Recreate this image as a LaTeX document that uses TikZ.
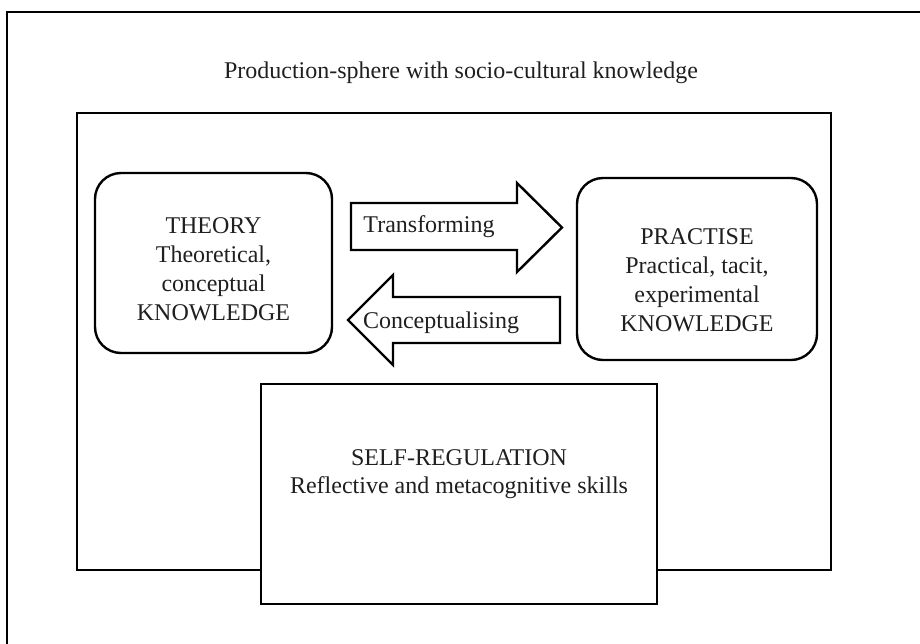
\documentclass[tikz,border=0pt]{standalone}
\usepackage{fontspec}
\setmainfont{Liberation Serif}
\begin{document}
\begin{tikzpicture}[x=1pt,y=-1pt,
  frame/.style={draw=black,line width=2pt},
  box/.style={draw=black,line width=2.4pt,fill=white},
  rbox/.style={draw=black,line width=2.4pt,fill=white,rounded corners=26pt},
  blockarrow/.style={draw=black,line width=2.4pt,fill=white,line join=miter},
  txt/.style={inner sep=0pt,align=center,text=black!88,font=\fontsize{24}{29}\selectfont}
]
\useasboundingbox (0,0) rectangle (920,643);
% outer frame (open on right and bottom)
\draw[frame] (7,650) -- (7,12) -- (930,12);
% title
\node[txt,anchor=base] (title) at (461,78) {Production-sphere with socio-cultural knowledge};
% inner sphere rectangle
\draw[box] (77,113) rectangle (831,570);
% theory box
\draw[rbox] (95,173) rectangle (332,353);
\node[txt] (theory) at (213.5,269) {THEORY\\Theoretical,\\conceptual\\KNOWLEDGE};
% practise box
\draw[rbox] (577,178) rectangle (817,360);
\node[txt] (practise) at (697,280) {PRACTISE\\Practical, tacit,\\experimental\\KNOWLEDGE};
% transforming arrow
\draw[blockarrow] (351,203) -- (517,203) -- (517,183) -- (562,227.5) -- (517,272) -- (517,250) -- (351,250) -- cycle;
\node[txt,anchor=base] (transf) at (429,232) {Transforming};
% conceptualising arrow
\draw[blockarrow] (560,297) -- (393,297) -- (393,275) -- (348,320) -- (393,365) -- (393,343) -- (560,343) -- cycle;
\node[txt,anchor=base] (concept) at (441,328) {Conceptualising};
% self-regulation box
\draw[box] (261,384) rectangle (657,604);
\node[txt,anchor=base] (selfreg) at (459,465) {SELF-REGULATION};
\node[txt,anchor=base] (skills) at (459,493) {Reflective and metacognitive skills};
\end{tikzpicture}
\end{document}
